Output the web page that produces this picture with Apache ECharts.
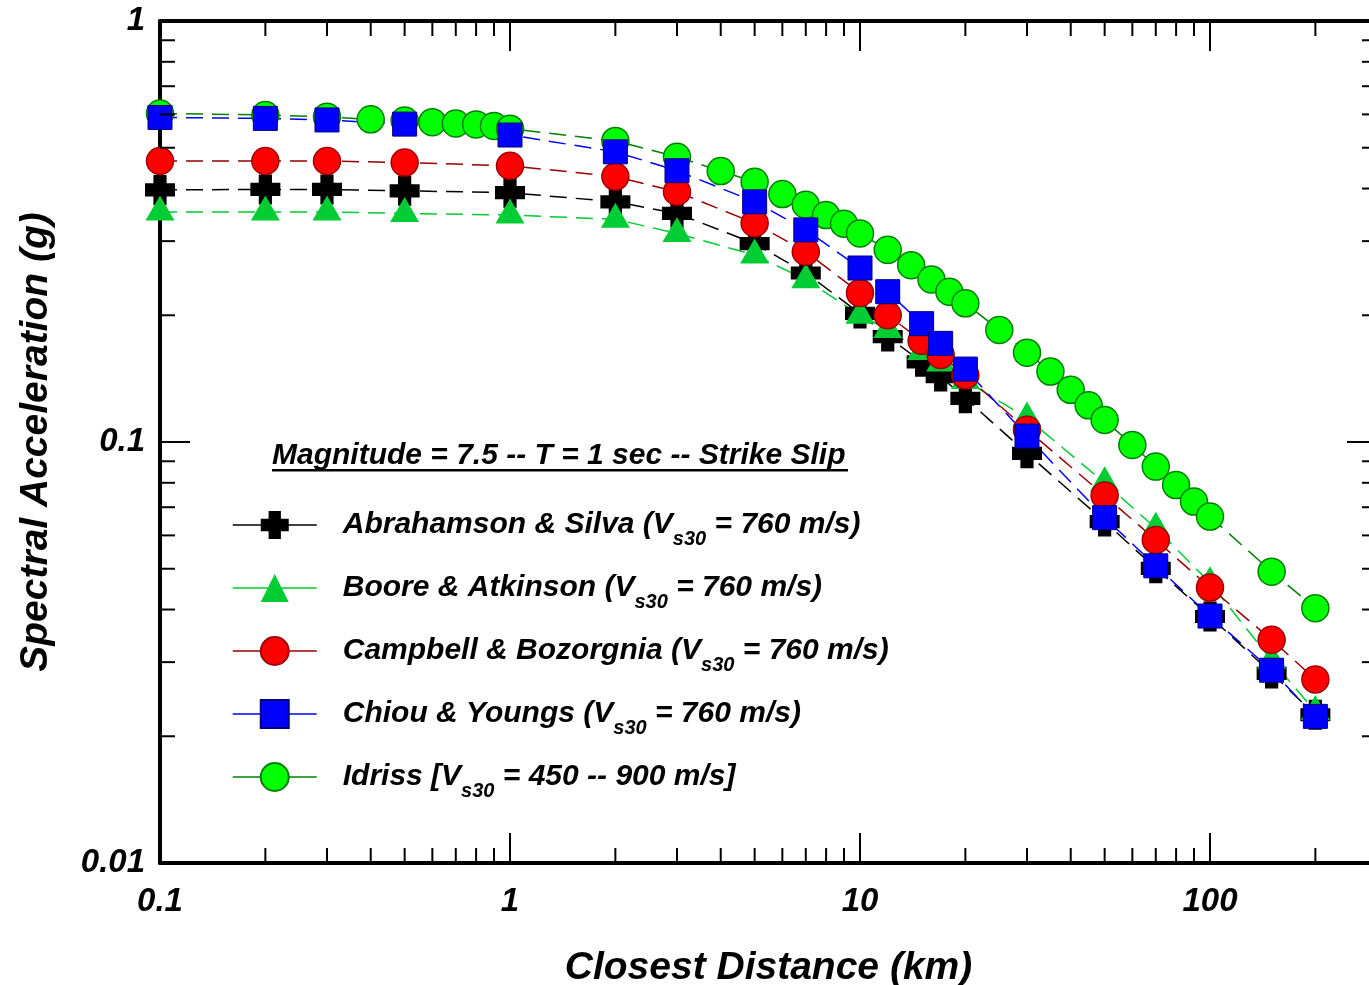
<!DOCTYPE html>
<html><head><meta charset="utf-8">
<script src="https://cdn.jsdelivr.net/npm/echarts@6/dist/echarts.min.js"></script>
<style>html,body{margin:0;padding:0;background:#fff}#c{width:1369px;height:985px}</style>
</head><body><div id="c"></div>
<script>
// ---- data ----
const distanceNGA = [0.1,0.2,0.3,0.5,1,2,3,5,7,10,12,15,17,20,30,50,70,100,150,200];
const abrahamsonSilva = [0.397,0.398,0.398,0.395,0.391,0.372,0.349,0.296,0.252,0.202,0.178,0.155,0.143,0.127,0.094,0.0647,0.0501,0.0385,0.0282,0.0225];
const booreAtkinson   = [0.352,0.352,0.352,0.349,0.346,0.338,0.313,0.278,0.243,0.200,0.185,0.164,0.154,0.140,0.114,0.080,0.0624,0.0463,0.0303,0.0229];
const campbellBozorgnia = [0.465,0.465,0.465,0.461,0.453,0.427,0.393,0.331,0.283,0.226,0.200,0.174,0.161,0.144,0.107,0.0746,0.0585,0.0451,0.0339,0.0273];
const chiouYoungs     = [0.590,0.587,0.582,0.569,0.536,0.489,0.441,0.372,0.319,0.259,0.2275,0.191,0.1715,0.149,0.1033,0.0661,0.0508,0.0386,0.0287,0.0223];
const distanceIdriss = [0.1,0.2,0.3,0.4,0.5,0.6,0.7,0.8,0.9,1,2,3,4,5,6,7,8,9,10,12,14,16,18,20,25,30,35,40,45,50,60,70,80,90,100,150,200];
const idriss = [0.603,0.598,0.592,0.584,0.580,0.575,0.571,0.568,0.563,0.555,0.519,0.476,0.440,0.415,0.388,0.366,0.346,0.330,0.313,0.286,0.263,0.2433,0.2275,0.2135,0.1845,0.163,0.147,0.133,0.1222,0.1128,0.0984,0.0874,0.079,0.0722,0.0665,0.0492,0.0403];

const xTickLabels = ['0.1','1','10','100'];
const yTickLabels = ['0.01','0.1','1'];
const xMinorTicks = [0.2,0.3,0.4,0.5,0.6,0.7,0.8,0.9,2,3,4,5,6,7,8,9,20,30,40,50,60,70,80,90,200];
const yMinorTicks = [0.02,0.03,0.04,0.05,0.06,0.07,0.08,0.09,0.2,0.3,0.4,0.5,0.6,0.7,0.8,0.9];

const seriesNames = ['Abrahamson & Silva','Boore & Atkinson','Campbell & Bozorgnia','Chiou & Youngs','Idriss'];
const legendLabels = {
  'Abrahamson & Silva': ['Abrahamson & Silva (V','s30',' = 760 m/s)'],
  'Boore & Atkinson': ['Boore & Atkinson (V','s30',' = 760 m/s)'],
  'Campbell & Bozorgnia': ['Campbell & Bozorgnia (V','s30',' = 760 m/s)'],
  'Chiou & Youngs': ['Chiou & Youngs (V','s30',' = 760 m/s)'],
  'Idriss': ['Idriss [V','s30',' = 450 -- 900 m/s]']
};
const titleText = 'Magnitude = 7.5 -- T = 1 sec -- Strike Slip';

// ---- styles ----
const FONT = '"Liberation Sans", Arial, sans-serif';
const txt = (size) => ({fontFamily: FONT, fontSize: size, fontWeight: 'bold', fontStyle: 'italic', color: '#000'});
const crossPath = 'path://M2.8,0L7.2,0L7.2,2.8L10,2.8L10,7.2L7.2,7.2L7.2,10L2.8,10L2.8,7.2L0,7.2L0,2.8L2.8,2.8Z';
const DASH = [17, 9];

function fmt(v, labels) {
  const s = String(+(+v).toPrecision(6));
  return labels.includes(s) ? s : '';
}

function mk(name, xs, ys, opts) {
  return Object.assign({
    name, type: 'line', data: xs.map((x, i) => [x, ys[i]]),
    showSymbol: true, animation: false, z: 3
  }, opts);
}

const axisCommon = {
  axisLine: {show: true, onZero: false, lineStyle: {color: '#000', width: 4}},
  axisTick: {show: true, inside: true, length: 30, lineStyle: {color: '#000', width: 2}},
  splitLine: {show: false},
  minorTick: {show: false}
};

const chart = echarts.init(document.getElementById('c'));
chart.setOption({
  animation: false,
  backgroundColor: '#fff',
  grid: {left: 160, top: 21, width: 1217, height: 842, outerBoundsMode: 'none', containLabel: false},
  title: {text: titleText, left: 272, top: 441, textStyle: txt(30), padding: 0},
  graphic: [{type: 'rect', left: 272, top: 469, shape: {width: 576, height: 2.5}, style: {fill: '#000'}}],
  xAxis: [
    Object.assign({}, axisCommon, {
      type: 'log', logBase: 10, min: 0.1, max: 300, position: 'bottom',
      axisLabel: Object.assign(txt(33), {margin: 22, formatter: v => fmt(v, xTickLabels), showMinLabel: true}),
      name: 'Closest Distance (km)', nameLocation: 'middle', nameGap: 86,
      nameTextStyle: txt(39)
    }),
    Object.assign({}, axisCommon, {
      type: 'log', logBase: 10, min: 0.1, max: 300, position: 'top', axisLabel: {show: false}
    })
  ],
  yAxis: [
    Object.assign({}, axisCommon, {
      type: 'log', logBase: 10, min: 0.01, max: 1, position: 'left',
      axisLabel: Object.assign(txt(33), {margin: 15, formatter: v => fmt(v, yTickLabels), showMinLabel: true, showMaxLabel: true}),
      name: 'Spectral Acceleration (g)', nameLocation: 'middle', nameGap: 104,
      nameTextStyle: txt(39)
    }),
    Object.assign({}, axisCommon, {
      type: 'log', logBase: 10, min: 0.01, max: 1, position: 'right', axisLabel: {show: false}
    })
  ],
  legend: {
    orient: 'vertical', left: 227, top: 505, itemWidth: 84, itemHeight: 35, itemGap: 24,
    data: seriesNames,
    lineStyle: {type: 'solid', width: 1.5},
    formatter: name => {
      const p = legendLabels[name];
      return '{t|' + p[0] + '}{s|' + p[1] + '}{t|' + p[2] + '}';
    },
    textStyle: {
      padding: [0, 0, 0, 21],
      rich: {
        t: Object.assign(txt(30), {lineHeight: 48, verticalAlign: 'middle'}),
        s: Object.assign(txt(20), {verticalAlign: 'bottom', lineHeight: 18})
      }
    }
  },
  series: [
    mk('Idriss', distanceIdriss, idriss, {
      symbol: 'circle', symbolSize: 27,
      lineStyle: {color: '#008000', width: 1.5, type: DASH},
      itemStyle: {color: '#00ff00', borderColor: '#008000', borderWidth: 1.5}
    }),
    mk('Abrahamson & Silva', distanceNGA, abrahamsonSilva, {
      symbol: crossPath, symbolSize: 30,
      lineStyle: {color: '#000000', width: 1.5, type: DASH},
      itemStyle: {color: '#000000'}
    }),
    mk('Boore & Atkinson', distanceNGA, booreAtkinson, {
      symbol: 'triangle', symbolSize: [29, 25], symbolOffset: [0, -4],
      lineStyle: {color: '#00cc33', width: 1.5, type: DASH},
      itemStyle: {color: '#00cc33'}
    }),
    mk('Campbell & Bozorgnia', distanceNGA, campbellBozorgnia, {
      symbol: 'circle', symbolSize: 27,
      lineStyle: {color: '#990000', width: 1.5, type: DASH},
      itemStyle: {color: '#ff0000', borderColor: '#a00000', borderWidth: 1.5}
    }),
    mk('Chiou & Youngs', distanceNGA, chiouYoungs, {
      symbol: 'rect', symbolSize: 24,
      lineStyle: {color: '#0000ff', width: 1.5, type: DASH},
      itemStyle: {color: '#0000ff', borderColor: '#000080', borderWidth: 1}
    }),
    {
      name: 'xminor', type: 'custom', silent: true, clip: false, z: 10, animation: false,
      data: xMinorTicks.map(v => [v, 0.1]),
      renderItem: (params, api) => {
        const cs = params.coordSys;
        const x = api.coord([api.value(0), api.value(1)])[0];
        const st = {stroke: '#000', lineWidth: 2};
        return {type: 'group', children: [
          {type: 'line', shape: {x1: x, y1: cs.y + cs.height, x2: x, y2: cs.y + cs.height - 15}, style: st},
          {type: 'line', shape: {x1: x, y1: cs.y, x2: x, y2: cs.y + 15}, style: st}
        ]};
      }
    },
    {
      name: 'yminor', type: 'custom', silent: true, clip: false, z: 10, animation: false,
      data: yMinorTicks.map(v => [1, v]),
      renderItem: (params, api) => {
        const cs = params.coordSys;
        const y = api.coord([api.value(0), api.value(1)])[1];
        const st = {stroke: '#000', lineWidth: 2};
        return {type: 'group', children: [
          {type: 'line', shape: {x1: cs.x, y1: y, x2: cs.x + 15, y2: y}, style: st},
          {type: 'line', shape: {x1: cs.x + cs.width, y1: y, x2: cs.x + cs.width - 15, y2: y}, style: st}
        ]};
      }
    }
  ]
});
</script>
</body></html>
